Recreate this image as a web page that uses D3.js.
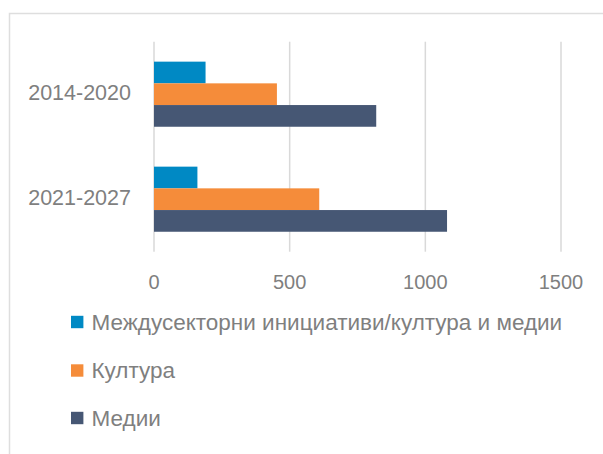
<!DOCTYPE html>
<html>
<head>
<meta charset="utf-8">
<script src="https://cdn.jsdelivr.net/npm/d3@7"></script>
<style>
  html, body { margin: 0; padding: 0; background: #fff; }
  svg { display: block; }
  text { font-family: "Liberation Sans", Arial, sans-serif; fill: #7f7f7f; }
</style>
</head>
<body>
<svg id="chart" width="603" height="454"></svg>
<script>
const categories = ["2014-2020", "2021-2027"];
const seriesNames = ["Междусекторни инициативи/култура и медии", "Култура", "Медии"];
const seriesColors = ["#0089c4", "#f58c3a", "#465774"];
const crossSectoral = [190, 160];
const culture = [453, 609];
const media = [819, 1080];
const xTicks = [0, 500, 1000, 1500];

const seriesValues = [crossSectoral, culture, media];

const svg = d3.select("#chart");

// chart frame
svg.append("rect")
  .attr("x", 9.5).attr("y", 13.5)
  .attr("width", 700).attr("height", 600)
  .attr("fill", "none").attr("stroke", "#dedede").attr("stroke-width", 1.5);

const plotTop = 41.7, plotBottom = 251.7;
const x = d3.scaleLinear().domain([0, 1500]).range([154, 561]);
const y = d3.scaleBand().domain(categories).range([plotTop, plotBottom])
  .paddingInner(0.38).paddingOuter(0.19);
const ySub = d3.scaleBand().domain(d3.range(seriesNames.length)).range([0, y.bandwidth()]);

// gridlines
svg.append("g").selectAll("line").data(xTicks).join("line")
  .attr("x1", d => x(d)).attr("x2", d => x(d))
  .attr("y1", plotTop).attr("y2", plotBottom)
  .attr("stroke", "#d9d9d9").attr("stroke-width", 1.5);

// bars
const groups = svg.append("g").selectAll("g").data(categories).join("g")
  .attr("transform", c => `translate(0,${y(c)})`);
groups.selectAll("rect")
  .data((c, ci) => seriesValues.map((vals, si) => ({si, v: vals[ci]})))
  .join("rect")
  .attr("x", x(0))
  .attr("y", d => ySub(d.si))
  .attr("width", d => x(d.v) - x(0))
  .attr("height", ySub.bandwidth())
  .attr("fill", d => seriesColors[d.si]);

// x tick labels
svg.append("g").selectAll("text").data(xTicks).join("text")
  .attr("x", d => x(d)).attr("y", 282)
  .attr("text-anchor", "middle").attr("dominant-baseline", "central")
  .style("font-size", "20px")
  .text(d => d);

// category labels
svg.append("g").selectAll("text").data(categories).join("text")
  .attr("x", 131).attr("y", c => y(c) + y.bandwidth() / 2 - 1)
  .attr("text-anchor", "end").attr("dominant-baseline", "central")
  .style("font-size", "21.5px")
  .text(c => c);

// legend
const legendY = [322, 370.5, 418];
const legend = svg.append("g").selectAll("g").data(seriesNames).join("g")
  .attr("transform", (d, i) => `translate(71,${legendY[i]})`);
legend.append("rect")
  .attr("x", 0).attr("y", -6.2).attr("width", 12.4).attr("height", 12.4)
  .attr("fill", (d, i) => seriesColors[i]);
const lt = legend.append("text")
  .attr("x", 20.5).attr("y", 0)
  .attr("dominant-baseline", "central")
  .style("font-size", "20px")
  .text(d => d);
// fit legend font so first label spans the reference width
const w0 = lt.nodes()[0].getComputedTextLength();
const fs = 20 * 471 / w0;
lt.style("font-size", fs + "px");
</script>
</body>
</html>
